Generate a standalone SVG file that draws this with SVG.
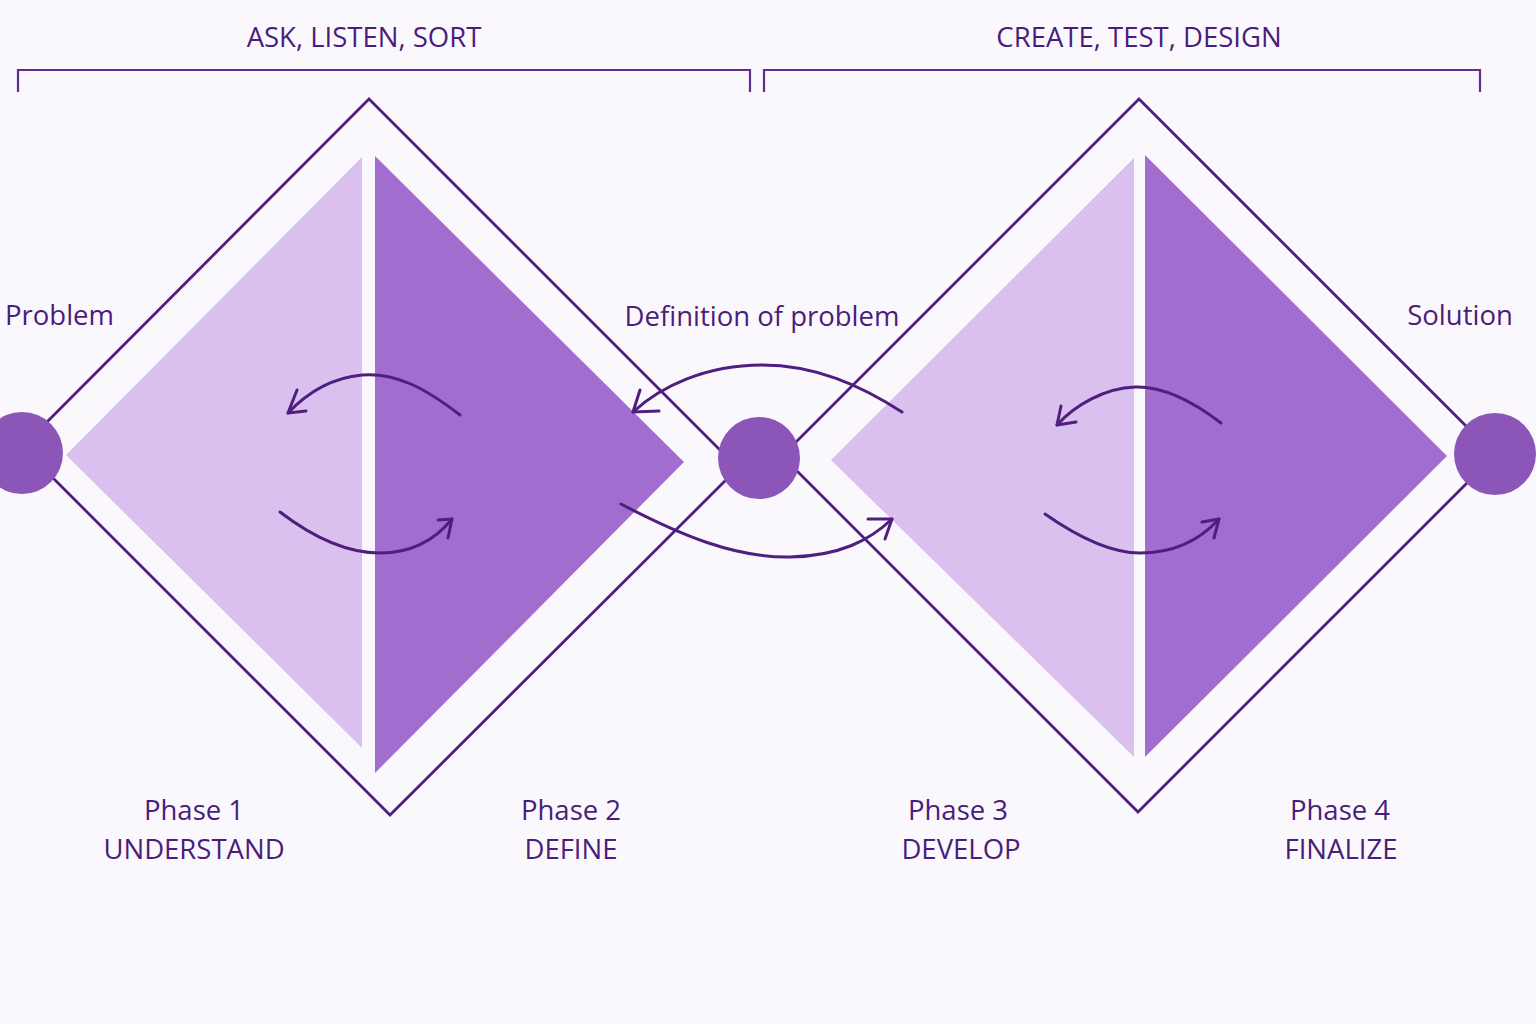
<svg xmlns="http://www.w3.org/2000/svg" width="1536" height="1024" viewBox="0 0 1536 1024">
<defs>
<style>
.bg{fill:#fbf8fd}
.outline{fill:none;stroke:#4e1f7e;stroke-width:2.8;stroke-linejoin:miter}
.light{fill:#dac0ef}
.dark{fill:#a36dcf}
.dot{fill:#8c55b8}
.arrow{fill:none;stroke:#4e1f7e;stroke-width:3;stroke-linecap:round;stroke-linejoin:round}
.bracket{fill:none;stroke:#5e2d8e;stroke-width:2.2}
.t{font-family:"Open Sans","Noto Sans",sans-serif;font-size:27.5px;fill:#4a1d7a;text-anchor:middle}
.ts{font-family:"Open Sans","Noto Sans",sans-serif;font-size:27.5px;fill:#4a1d7a}
</style>
</defs>
<rect class="bg" x="0" y="0" width="1536" height="1024"/>

<g id="brackets">
<path class="bracket" d="M18,92 V70 H750 V92"/>
<path class="bracket" d="M764,92 V70 H1480 V92"/>
<text class="t" x="364" y="47">ASK, LISTEN, SORT</text>
<text class="t" x="1139" y="47">CREATE, TEST, DESIGN</text>
</g>

<g id="diamond-1">
<polygon class="outline" points="369,99 738,468 390,815 22,447"/>
<polygon class="light" points="362,157 66,455 362,748"/>
<polygon class="dark" points="375,156 684,462 375,773"/>
</g>

<g id="diamond-2">
<polygon class="outline" points="1139,99 1495,455 1138,812 782,456"/>
<polygon class="light" points="1134,158 831,460 1134,757"/>
<polygon class="dark" points="1145,155 1447,456 1145,757"/>
</g>

<g id="connectors">
<path class="arrow" d="M460,415 C425,388 395,372 362,375 C330,378 305,395 288,413"/>
<path class="arrow" d="M297,390 L288,413 L306,411"/>
<path class="arrow" d="M280,512 C310,535 345,553 380,553 C412,553 435,540 452,519"/>
<path class="arrow" d="M438,520 L452,519 L448,538"/>
<path class="arrow" d="M902,412 C860,385 815,365 762,365 C705,365 660,387 633,412"/>
<path class="arrow" d="M640,390 L633,412 L659,411"/>
<path class="arrow" d="M621,504 C680,535 735,558 790,557 C840,556 870,540 892,519"/>
<path class="arrow" d="M868,519 L892,519 L885,539"/>
<path class="arrow" d="M1221,423 C1195,403 1165,386 1135,387 C1105,388 1075,405 1057,425"/>
<path class="arrow" d="M1061,406 L1057,425 L1076,422"/>
<path class="arrow" d="M1045,514 C1075,535 1108,553 1140,553 C1175,553 1200,540 1219,519"/>
<path class="arrow" d="M1202,522 L1219,519 L1214,538"/>
</g>

<g id="node-problem">
<circle class="dot" cx="22" cy="453" r="41"/>
<text class="ts" x="5" y="325">Problem</text>
</g>
<g id="node-definition">
<circle class="dot" cx="759" cy="458" r="41"/>
<text class="t" x="762" y="326">Definition of problem</text>
</g>
<g id="node-solution">
<circle class="dot" cx="1495" cy="454" r="41"/>
<text class="t" x="1460" y="325">Solution</text>
</g>

<g id="phase-1">
<text class="t" x="194" y="820">Phase 1</text>
<text class="t" x="194" y="859">UNDERSTAND</text>
</g>
<g id="phase-2">
<text class="t" x="571" y="820">Phase 2</text>
<text class="t" x="571" y="859">DEFINE</text>
</g>
<g id="phase-3">
<text class="t" x="958" y="820">Phase 3</text>
<text class="t" x="961" y="859">DEVELOP</text>
</g>
<g id="phase-4">
<text class="t" x="1340" y="820">Phase 4</text>
<text class="t" x="1341" y="859">FINALIZE</text>
</g>
</svg>
